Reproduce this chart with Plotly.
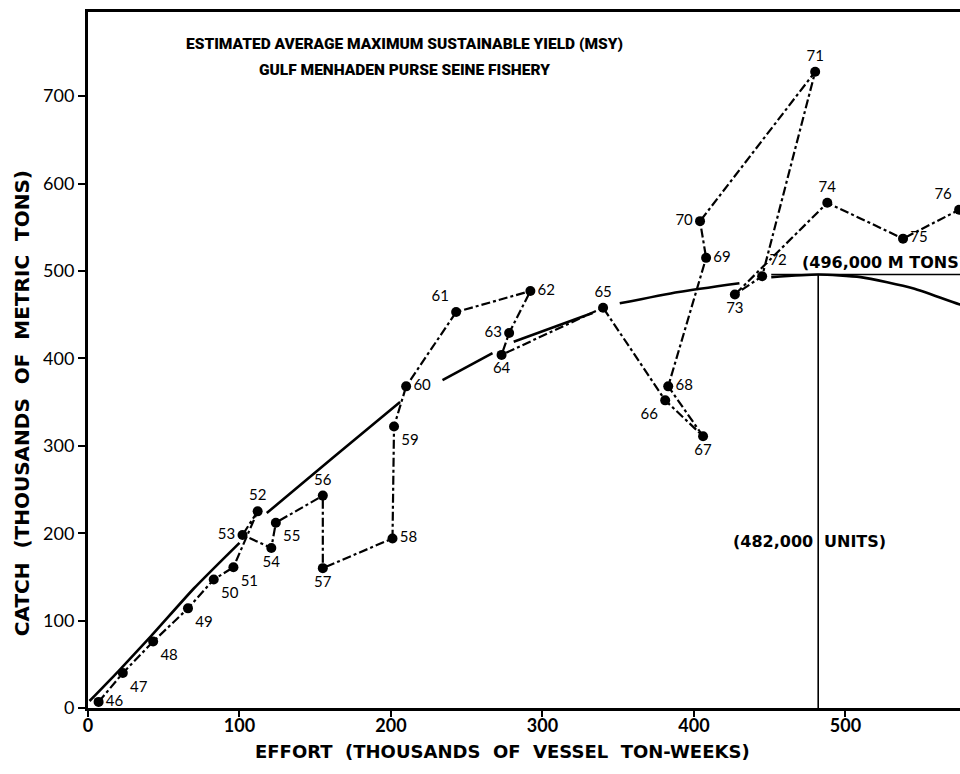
import plotly.graph_objects as go

# Annual observations, 1946-1976
years = ["46", "47", "48", "49", "50", "51", "52", "53", "54", "55", "56",
         "57", "58", "59", "60", "61", "62", "63", "64", "65", "66", "67",
         "68", "69", "70", "71", "72", "73", "74", "75", "76"]
effort = [7, 23, 43, 66, 83, 96, 112, 102, 121, 124, 155,
          155, 201, 202, 210, 243, 292, 278, 273, 340, 381, 406,
          383, 408, 404, 480, 445, 427, 488, 538, 575]
catch = [7, 40, 76, 114, 147, 161, 225, 198, 183, 212, 243,
         160, 194, 322, 368, 453, 477, 429, 404, 458, 352, 311,
         368, 515, 557, 728, 494, 473, 578, 537, 570]

# Fitted yield curve (None marks breaks in the drawn line)
curve_effort = [1, 20, 41, 70, 100, None, 118, 162, 206, None, 234, 267, None,
                281, 333, None, 351, 390, 430, None, 451, 482, 510, 545, 575, 600]
curve_catch = [8, 42, 81, 137, 189, None, 223, 287, 350, None, 375, 406, None,
               419, 452, None, 463, 476, 486, None, 493, 496, 493, 480, 462, 450]

msy_effort = 482
msy_catch = 496

x_ticks = [0, 100, 200, 300, 400, 500]
y_ticks = [0, 100, 200, 300, 400, 500, 600, 700]

label_pos = ["middle right", "bottom right", "bottom right", "bottom right",
             "bottom right", "bottom right", "top center", "middle left",
             "bottom center", "bottom right", "top center", "bottom center",
             "middle right", "bottom right", "middle right", "top left",
             "middle right", "middle left", "bottom center", "top center",
             "bottom left", "bottom center", "middle right", "middle right",
             "middle left", "top center", "top right", "bottom center",
             "top center", "middle right", "top left"]

FONT = "Lato"
HEAVY = "DejaVu Sans"

fig = go.Figure()

# MSY reference lines
fig.add_trace(go.Scatter(
    x=[msy_effort, msy_effort], y=[0, msy_catch], mode="lines",
    line=dict(color="black", width=1.6), hoverinfo="skip", showlegend=False))
fig.add_trace(go.Scatter(
    x=[451, 600], y=[msy_catch, msy_catch], mode="lines",
    line=dict(color="black", width=1.6), hoverinfo="skip", showlegend=False))

# Yield curve
fig.add_trace(go.Scatter(
    x=curve_effort, y=curve_catch, mode="lines", connectgaps=False,
    line=dict(color="black", width=2.6, shape="spline", smoothing=0.6),
    hoverinfo="skip", showlegend=False))

# Observed catch vs effort, connected year to year
fig.add_trace(go.Scatter(
    x=effort, y=catch, mode="lines+markers+text",
    text=years, textposition=label_pos,
    textfont=dict(family=FONT, size=15, color="black"),
    line=dict(color="black", width=2.2, dash="dashdot"),
    marker=dict(color="black", size=10),
    cliponaxis=True, showlegend=False))

fig.update_layout(
    width=960, height=774,
    margin=dict(l=88, r=0, t=12, b=66),
    paper_bgcolor="white", plot_bgcolor="white",
    font=dict(family=FONT, color="black"),
    xaxis=dict(range=[0, 575.6], tickvals=x_ticks, showgrid=False,
               zeroline=False, showline=True, linecolor="black", linewidth=3,
               mirror=True, ticks="outside", ticklen=6, tickwidth=2,
               tickcolor="black", ticklabelstandoff=-7,
               tickfont=dict(family=FONT, size=18, color="black", weight="bold")),
    yaxis=dict(range=[0, 796.3], tickvals=y_ticks, showgrid=False,
               zeroline=False, showline=True, linecolor="black", linewidth=3,
               ticks="outside", ticklen=7, tickwidth=2, tickcolor="black",
               tickfont=dict(family=FONT, size=18, color="black")),
    annotations=[
        dict(text="ESTIMATED AVERAGE MAXIMUM SUSTAINABLE YIELD (MSY)",
             xref="paper", yref="paper", x=0.3635, y=0.954,
             xanchor="center", yanchor="middle", showarrow=False,
             font=dict(family="Roboto", size=15.5, weight=900)),
        dict(text="GULF MENHADEN PURSE SEINE FISHERY",
             xref="paper", yref="paper", x=0.3635, y=0.9167,
             xanchor="center", yanchor="middle", showarrow=False,
             font=dict(family="Roboto", size=15.5, weight=900)),
        dict(text="CATCH  (THOUSANDS  OF  METRIC  TONS)",
             xref="paper", yref="paper", x=-0.0757, y=0.438,
             xanchor="center", yanchor="middle", textangle=-90,
             showarrow=False, font=dict(family=HEAVY, size=20, weight="bold")),
        dict(text="EFFORT  (THOUSANDS  OF  VESSEL  TON-WEEKS)",
             xref="paper", yref="paper", x=0.475, y=-0.0632,
             xanchor="center", yanchor="middle", showarrow=False,
             font=dict(family=HEAVY, size=18, weight="bold")),
        dict(text="(482,000", x=msy_effort, y=190, xref="x", yref="y",
             xanchor="right", yanchor="middle", xshift=-3, showarrow=False,
             font=dict(family=HEAVY, size=16, weight="bold")),
        dict(text="UNITS)", x=msy_effort, y=190, xref="x", yref="y",
             xanchor="left", yanchor="middle", xshift=4, showarrow=False,
             font=dict(family=HEAVY, size=16, weight="bold")),
        dict(text="(496,000 M TONS)", x=470, y=msy_catch, xref="x", yref="y",
             xanchor="left", yanchor="bottom", xshift=0, yshift=0,
             showarrow=False, font=dict(family=HEAVY, size=16, weight="bold")),
    ],
)

fig.write_html("out.html")
